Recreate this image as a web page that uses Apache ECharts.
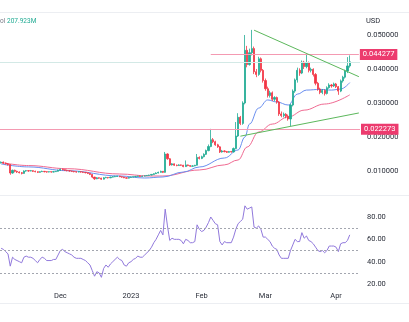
<!DOCTYPE html>
<html>
<head>
<meta charset="utf-8">
<script src="https://cdn.jsdelivr.net/npm/echarts@6/dist/echarts.min.js"></script>
<style>
  html, body { margin: 0; padding: 0; background: #ffffff; }
  #chart { width: 409px; height: 322px; }
</style>
</head>
<body>
<div id="chart"></div>
<script>
// Daily session range shown on the time axis (includes a few empty days on the right)
const startDate = '2022-11-05';
const dayCount = 158;

// Month markers along the bottom axis
const tickDates = ['2022-12-01', '2023-01-01', '2023-02-01', '2023-03-01', '2023-04-01'];
const tickTexts = ['Dec', '2023', 'Feb', 'Mar', 'Apr'];

// Daily candles: [open, close, low, high]
const candles = [
  [.0124,.0126,.0122,.0128],[.0126,.0123,.0121,.0128],[.0123,.0121,.0119,.0125],[.0121,.0119,.0116,.0123],
  [.0119,.0094,.0089,.0120],[.0094,.0102,.0092,.0104],[.0102,.0099,.0096,.0104],[.0099,.0097,.0094,.0101],
  [.0097,.0095,.0093,.0099],[.0095,.0093,.0090,.0097],[.0093,.0100,.0092,.0102],[.0100,.0101,.0098,.0103],
  [.0101,.0100,.0098,.0102],[.0100,.0101,.0099,.0103],[.0101,.0099,.0097,.0102],[.0099,.0098,.0096,.0101],
  [.0098,.0096,.0094,.0099],[.0096,.0098,.0095,.0099],[.0098,.0099,.0097,.0101],[.0099,.0098,.0096,.0100],
  [.0098,.0097,.0095,.0099],[.0097,.0098,.0096,.0099],[.0098,.0097,.0095,.0099],[.0097,.0098,.0096,.0100],
  [.0098,.0099,.0097,.0100],[.0099,.0102,.0098,.0104],[.0102,.0105,.0100,.0107],[.0105,.0104,.0102,.0107],
  [.0104,.0102,.0100,.0105],[.0102,.0101,.0099,.0104],[.0101,.0100,.0098,.0102],[.0100,.0099,.0097,.0101],
  [.0099,.0098,.0096,.0100],[.0098,.0097,.0095,.0099],[.0097,.0098,.0096,.0099],[.0098,.0097,.0095,.0099],
  [.0097,.0096,.0094,.0098],[.0096,.0095,.0093,.0097],[.0095,.0093,.0091,.0096],[.0093,.0090,.0088,.0094],
  [.0090,.0082,.0079,.0091],[.0082,.0077,.0074,.0083],[.0077,.0080,.0076,.0082],[.0080,.0079,.0077,.0081],
  [.0079,.0076,.0074,.0080],[.0076,.0080,.0075,.0082],[.0080,.0081,.0079,.0083],[.0081,.0080,.0078,.0082],
  [.0080,.0082,.0079,.0083],[.0082,.0083,.0081,.0085],[.0083,.0084,.0082,.0086],[.0084,.0085,.0083,.0086],
  [.0085,.0083,.0082,.0086],[.0083,.0082,.0080,.0084],[.0082,.0080,.0079,.0083],[.0080,.0079,.0078,.0081],
  [.0079,.0081,.0078,.0082],[.0081,.0082,.0080,.0083],[.0082,.0083,.0081,.0084],[.0083,.0084,.0082,.0085],
  [.0084,.0085,.0083,.0086],[.0085,.0084,.0083,.0086],[.0084,.0085,.0083,.0086],[.0085,.0086,.0084,.0087],
  [.0086,.0087,.0085,.0088],[.0087,.0088,.0086,.0089],[.0088,.0090,.0087,.0091],[.0090,.0092,.0089,.0093],
  [.0092,.0094,.0091,.0096],[.0094,.0096,.0093,.0098],[.0096,.0099,.0095,.0101],[.0099,.0096,.0094,.0100],
  [.0096,.0150,.0095,.0156],[.0150,.0136,.0133,.0152],[.0136,.0118,.0115,.0138],[.0118,.0121,.0116,.0123],
  [.0121,.0117,.0115,.0122],[.0117,.0116,.0114,.0119],[.0116,.0118,.0115,.0120],[.0118,.0117,.0115,.0119],
  [.0117,.0113,.0111,.0118],[.0113,.0118,.0112,.0131],[.0118,.0116,.0114,.0119],[.0116,.0114,.0112,.0117],
  [.0114,.0115,.0113,.0117],[.0115,.0117,.0114,.0118],[.0117,.0140,.0116,.0150],[.0140,.0137,.0134,.0143],
  [.0137,.0142,.0135,.0145],[.0142,.0149,.0140,.0152],[.0149,.0160,.0147,.0163],[.0160,.0172,.0158,.0178],
  [.0172,.0192,.0170,.0224],[.0192,.0186,.0182,.0197],[.0186,.0177,.0174,.0189],[.0177,.0171,.0168,.0180],
  [.0171,.0156,.0153,.0173],[.0156,.0159,.0154,.0162],[.0159,.0157,.0155,.0161],[.0157,.0155,.0153,.0159],
  [.0155,.0157,.0154,.0159],[.0157,.0156,.0154,.0159],[.0156,.0166,.0155,.0169],[.0166,.0203,.0164,.0244],
  [.0203,.0258,.0200,.0270],[.0258,.0240,.0235,.0262],[.0240,.0300,.0236,.0305],[.0300,.0455,.0296,.0500],
  [.0455,.0413,.0405,.0468],[.0413,.0448,.0410,.0460],[.0448,.0460,.0440,.0515],[.0460,.0392,.0385,.0466],
  [.0392,.0384,.0376,.0400],[.0384,.0430,.0380,.0436],[.0430,.0396,.0390,.0434],[.0396,.0366,.0360,.0400],
  [.0366,.0342,.0336,.0372],[.0342,.0322,.0316,.0348],[.0322,.0330,.0316,.0336],[.0330,.0311,.0306,.0334],
  [.0311,.0316,.0305,.0320],[.0316,.0303,.0298,.0319],[.0303,.0268,.0262,.0306],[.0268,.0263,.0258,.0275],
  [.0263,.0267,.0258,.0272],[.0267,.0261,.0255,.0270],[.0261,.0253,.0248,.0266],[.0253,.0294,.0232,.0298],
  [.0294,.0335,.0290,.0340],[.0335,.0368,.0330,.0372],[.0368,.0396,.0360,.0404],[.0396,.0388,.0380,.0402],
  [.0388,.0420,.0385,.0425],[.0420,.0407,.0400,.0424],[.0407,.0418,.0402,.0442],[.0418,.0396,.0390,.0422],
  [.0396,.0399,.0390,.0404],[.0399,.0384,.0378,.0402],[.0384,.0358,.0352,.0388],[.0358,.0341,.0336,.0362],
  [.0341,.0331,.0326,.0345],[.0331,.0337,.0326,.0341],[.0337,.0328,.0322,.0340],[.0328,.0345,.0325,.0349],
  [.0345,.0353,.0342,.0358],[.0353,.0350,.0345,.0356],[.0350,.0356,.0347,.0360],[.0356,.0348,.0344,.0359],
  [.0348,.0335,.0324,.0350],[.0335,.0365,.0332,.0369],[.0365,.0376,.0360,.0380],[.0376,.0394,.0372,.0398],
  [.0394,.0409,.0388,.0435],[.0409,.0421,.0404,.0440]
];

// Moving averages sampled along the day index: [dayIndex, value]
const maFast = [
  [0,.01206],[12,.0112],[29,.01009],[52,.00853],[63,.00794],[71,.00824],[80,.0097],[87,.01118],
  [98,.01382],[104,.01618],[107,.0200],[109,.0238],[113,.0285],[117,.0309],[121,.0303],[126,.0294],
  [130,.0326],[134,.0338],[140,.0340],[145,.0338],[149,.0341],[153,.0360]
];
const maSlow = [
  [0,.0125],[12,.0116],[29,.01068],[52,.00912],[65,.00853],[71,.00853],[87,.0103],[98,.0118],
  [104,.01324],[108,.01706],[113,.02147],[119,.0238],[126,.0259],[133,.0279],[142,.0297],[153,.0324]
];

// RSI, one value per candle
const rsi = [
  52,51,49,47,36,44,42,41,40,39,44,45,44,44,43,41,39,42,44,43,
  41,41,41,42,42,46,50,51,49,48,47,46,44,43,43,43,42,41,39,37,
  32,27,31,30,26,34,37,35,38,40,42,44,42,41,37,36,39,40,42,43,
  45,44,44,46,48,50,53,57,60,64,68,64,87,72,59,61,60,60,60,59,
  56,60,59,57,57,58,73,69,67,68,71,75,80,77,74,73,58,55,58,57,
  57,57,62,69,74,76,78,90,87,88,89,71,70,72,69,62,62,60,58,54,
  52,51,46,43,43,43,43,50,55,60,58,58,66,61,63,59,58,56,53,50,
  49,50,48,50,54,54,54,53,49,56,57,57,59,64
];

// Horizontal levels and trend lines: [dayIndex, price]
const resistanceLevel = 0.044277;
const supportLevel = 0.022273;
const resistanceStart = 92;
const upperTrend = [[111, 0.05142], [157, 0.03774]];
const lowerTrend = [[105, 0.02024], [157, 0.02707]];
const lastPrice = 0.0421;
const rsiLevels = [70, 50, 30];

// ---- build the category list of days ----
const dates = [];
{
  const t0 = Date.parse(startDate + 'T00:00:00Z');
  for (let i = 0; i < dayCount; i++) {
    dates.push(new Date(t0 + i * 86400000).toISOString().slice(0, 10));
  }
}
const monthLabel = {};
tickDates.forEach((d, i) => { monthLabel[d] = tickTexts[i]; });

const FONT = 'Roboto, "Liberation Sans", sans-serif';
const TXT = '#2a2e39';
const UP = '#22ab94', DOWN = '#f23645';
const PINK_LINE = '#f49ab2', PINK_BOX = '#ec3b6e', GREEN_LINE = '#5cb85c';

const chart = echarts.init(document.getElementById('chart'), null, { renderer: 'canvas' });

const boxLabel = (txt) => ({
  show: true, position: 'end', distance: 1, formatter: txt,
  color: '#ffffff', backgroundColor: PINK_BOX, padding: [2, 3, 1, 3],
  fontSize: 7.5, fontFamily: FONT
});

chart.setOption({
  animation: false,
  backgroundColor: '#ffffff',
  grid: [
    { left: 0, right: 49, top: 13, height: 182 },
    { left: 0, right: 49, top: 196, height: 93 }
  ],
  xAxis: [
    { type: 'category', gridIndex: 0, data: dates, boundaryGap: true, show: false },
    {
      type: 'category', gridIndex: 1, data: dates, boundaryGap: true,
      axisLine: { show: false }, axisTick: { show: false }, splitLine: { show: false },
      axisLabel: {
        interval: (idx, val) => monthLabel[val] !== undefined,
        formatter: (val) => monthLabel[val] || '',
        color: TXT, fontSize: 7.5, fontFamily: FONT, margin: 3
      }
    }
  ],
  yAxis: [
    {
      type: 'value', gridIndex: 0, position: 'right', scale: true,
      min: 0.002941, max: 0.05647, splitNumber: 5,
      axisLine: { show: false }, axisTick: { show: false }, splitLine: { show: false },
      axisLabel: {
        showMinLabel: false, showMaxLabel: false, margin: 7,
        color: TXT, fontSize: 7.5, fontFamily: FONT,
        formatter: (v) => v.toFixed(6)
      }
    },
    {
      type: 'value', gridIndex: 1, position: 'right', scale: true,
      min: 15.54, max: 98.8, splitNumber: 4,
      axisLine: { show: false }, axisTick: { show: false }, splitLine: { show: false },
      axisLabel: {
        showMinLabel: false, showMaxLabel: false, margin: 7,
        color: TXT, fontSize: 7.5, fontFamily: FONT,
        formatter: (v) => v.toFixed(2)
      }
    }
  ],
  series: [
    {
      type: 'candlestick', xAxisIndex: 0, yAxisIndex: 0, data: candles,
      barWidth: '72%',
      itemStyle: { color: UP, color0: DOWN, borderColor: UP, borderColor0: DOWN, borderWidth: 0.8 },
      markLine: {
        silent: true, symbol: ['none', 'none'], animation: false, precision: 6,
        data: [
          { yAxis: lastPrice, lineStyle: { color: '#d3e9e6', width: 1, type: 'solid' }, label: { show: false } },
          { yAxis: supportLevel, lineStyle: { color: PINK_LINE, width: 1, type: 'solid' },
            label: boxLabel(supportLevel.toFixed(6)) },
          [
            { coord: [dates[resistanceStart], resistanceLevel],
              lineStyle: { color: PINK_LINE, width: 1, type: 'solid' },
              label: boxLabel(resistanceLevel.toFixed(6)) },
            { coord: [dates[dayCount - 1], resistanceLevel] }
          ],
          [
            { coord: [dates[upperTrend[0][0]], upperTrend[0][1]],
              lineStyle: { color: GREEN_LINE, width: 1, type: 'solid' }, label: { show: false } },
            { coord: [dates[upperTrend[1][0]], upperTrend[1][1]] }
          ],
          [
            { coord: [dates[lowerTrend[0][0]], lowerTrend[0][1]],
              lineStyle: { color: GREEN_LINE, width: 1, type: 'solid' }, label: { show: false } },
            { coord: [dates[lowerTrend[1][0]], lowerTrend[1][1]] }
          ]
        ]
      },
      z: 3
    },
    {
      type: 'line', xAxisIndex: 0, yAxisIndex: 0, data: maSlow, smooth: 0.4, smoothMonotone: 'x',
      showSymbol: false, lineStyle: { color: '#f06a92', width: 1 }, z: 2
    },
    {
      type: 'line', xAxisIndex: 0, yAxisIndex: 0, data: maFast, smooth: 0.4, smoothMonotone: 'x',
      showSymbol: false, lineStyle: { color: '#6a8ff0', width: 1 }, z: 2
    },
    {
      type: 'line', xAxisIndex: 1, yAxisIndex: 1, data: rsi,
      showSymbol: false, lineStyle: { color: '#9179dc', width: 1 },
      markLine: {
        silent: true, symbol: ['none', 'none'], animation: false, label: { show: false },
        lineStyle: { color: '#a3a6af', width: 1, type: [2, 2] },
        data: rsiLevels.map((v) => ({ yAxis: v }))
      }
    }
  ],
  graphic: [
    { type: 'line', shape: { x1: 0, y1: 12.5, x2: 409, y2: 12.5 }, style: { stroke: '#eceef2', lineWidth: 1 }, silent: true },
    { type: 'line', shape: { x1: 0, y1: 195.5, x2: 409, y2: 195.5 }, style: { stroke: '#eceef2', lineWidth: 1 }, silent: true },
    { type: 'line', shape: { x1: 0, y1: 303.5, x2: 409, y2: 303.5 }, style: { stroke: '#eceef2', lineWidth: 1 }, silent: true },
    { type: 'text', x: -4, y: 17.5, style: { text: 'Vol', fill: '#787b86', fontSize: 6.5, fontFamily: FONT } },
    { type: 'text', x: 7, y: 17.5, style: { text: '207.923M', fill: '#22ab94', fontSize: 6.5, fontFamily: FONT } },
    { type: 'text', x: 366, y: 17, style: { text: 'USD', fill: TXT, fontSize: 7.5, fontFamily: FONT } }
  ]
});
</script>
</body>
</html>
